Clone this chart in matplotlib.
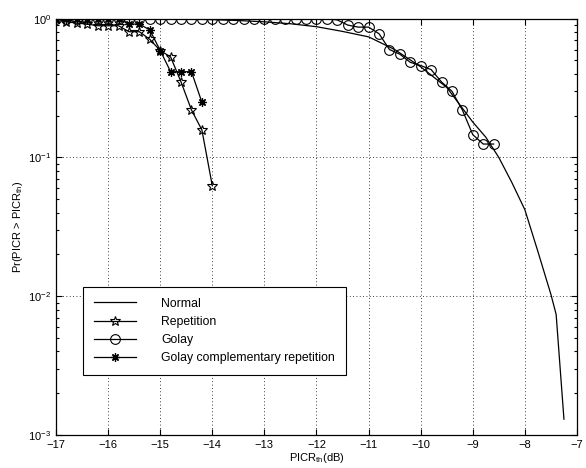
import numpy as np
import matplotlib
matplotlib.use("Agg")
import matplotlib.pyplot as plt
from matplotlib.ticker import LogLocator, NullFormatter, FixedLocator

plt.rcParams['font.family'] = ['Liberation Sans', 'DejaVu Sans']
plt.rcParams['mathtext.default'] = 'regular'

# --- data ------------------------------------------------------------------
normal_x = [-17, -16, -15, -14.5, -14, -13.5, -13, -12.5, -12, -11.5, -11,
            -10.5, -10, -9.5, -9, -8.75, -8.5, -8.25, -8, -7.75, -7.5, -7.4,
            -7.25]
normal_y = [1.0, 1.0, 0.999, 0.995, 0.985, 0.97, 0.95, 0.92, 0.876, 0.81,
            0.74, 0.60, 0.45, 0.32, 0.18, 0.14, 0.10, 0.066, 0.042, 0.021,
            0.0103, 0.0074, 0.0013]

rep_x = [-17, -16.8, -16.6, -16.4, -16.2, -16.0, -15.8, -15.6, -15.4, -15.2,
         -15.0, -14.8, -14.6, -14.4, -14.2, -14.0]
rep_y = [1.0, 0.95, 0.93, 0.915, 0.89, 0.89, 0.89, 0.806, 0.806, 0.71,
         0.59, 0.53, 0.35, 0.22, 0.158, 0.0625]

golay_x = [-17, -16.8, -16.6, -16.4, -16.2, -16, -15.8, -15.6, -15.4, -15.2,
           -15, -14.8, -14.6, -14.4, -14.2, -14, -13.8, -13.6, -13.4, -13.2,
           -13, -12.8, -12.6, -12.4, -12.2, -12, -11.8, -11.6, -11.4, -11.2,
           -11, -10.8, -10.6, -10.4, -10.2, -10, -9.8, -9.6, -9.4, -9.2,
           -9, -8.8, -8.6]
golay_y = [1.0] * 27 + [0.98, 0.90, 0.87, 0.87, 0.78, 0.60, 0.555, 0.485,
                        0.46, 0.43, 0.35, 0.30, 0.22, 0.146, 0.125, 0.125]

gcr_x = [-17, -16.8, -16.6, -16.4, -16.2, -16.0, -15.8, -15.6, -15.4, -15.2,
         -15.0, -14.8, -14.6, -14.4, -14.2]
gcr_y = [1.0, 1.0, 1.0, 1.0, 1.0, 1.0, 1.0, 0.915, 0.915, 0.83,
         0.59, 0.415, 0.415, 0.415, 0.25]

labels = ['Normal', 'Repetition', 'Golay', 'Golay complementary repetition']

# --- figure ----------------------------------------------------------------
fig = plt.figure(figsize=(5.86, 4.68), dpi=100)
ax = fig.add_axes([0.0956, 0.0705, 0.889, 0.8895])

lw = 0.9
ax.plot(normal_x, normal_y, color='k', lw=lw, label=labels[0])
ax.plot(rep_x, rep_y, color='k', lw=lw, marker='*', ms=7, mfc='none',
        mew=0.8, label=labels[1])
ax.plot(golay_x, golay_y, color='k', lw=lw, marker='o', ms=7, mfc='none',
        mew=0.8, label=labels[2])
ax.plot(gcr_x, gcr_y, color='k', lw=lw, marker=(8, 2, 0), ms=6,
        mew=0.9, label=labels[3])

ax.set_yscale('log')
ax.set_xlim(-17, -7)
ax.set_ylim(1e-3, 1)
ax.xaxis.set_major_locator(FixedLocator(np.arange(-17, -6, 1)))
ax.yaxis.set_major_locator(LogLocator(base=10, numticks=10))
ax.yaxis.set_minor_locator(LogLocator(base=10, subs=np.arange(2, 10), numticks=10))
ax.yaxis.set_minor_formatter(NullFormatter())
ax.set_xticklabels([f'\u2212{abs(v)}' for v in range(-17, -6)])

ax.grid(True, which='major', ls=(0, (1, 3)), color='k', lw=0.6)
ax.tick_params(which='both', direction='in', top=True, right=True,
               labelsize=8, width=0.8)
ax.tick_params(which='major', length=4)
ax.tick_params(which='minor', length=2)
for sp in ax.spines.values():
    sp.set_linewidth(0.9)

ax.set_xlabel('PICR$_{th}$(dB)', fontsize=8, labelpad=1)
ax.set_ylabel('Pr(PICR > PICR$_{th}$)', fontsize=8, labelpad=2)

leg = ax.legend(loc='lower left', bbox_to_anchor=(0.052, 0.144),
                borderaxespad=0, fancybox=False, edgecolor='k',
                framealpha=1, fontsize=8.8, handlelength=3.4,
                handletextpad=2.1, labelspacing=0.5, borderpad=0.9)
leg.get_frame().set_linewidth(0.8)

fig.savefig('out.png', dpi=100)
